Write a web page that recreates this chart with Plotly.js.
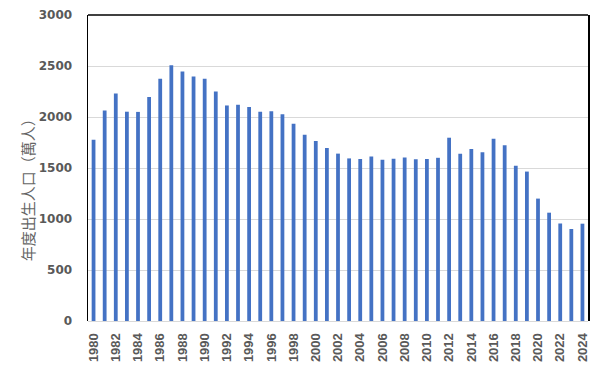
<!DOCTYPE html>
<html>
<head>
<meta charset="utf-8">
<script src="https://cdn.plot.ly/plotly-3.0.1.min.js"></script>
<style>html,body{margin:0;padding:0;background:#fff;}#chart{width:600px;height:370px;}</style>
</head>
<body>
<div id="chart"></div>
<script>
const years = [1980,1981,1982,1983,1984,1985,1986,1987,1988,1989,
  1990,1991,1992,1993,1994,1995,1996,1997,1998,1999,
  2000,2001,2002,2003,2004,2005,2006,2007,2008,2009,
  2010,2011,2012,2013,2014,2015,2016,2017,2018,2019,
  2020,2021,2022,2023,2024];
const births = [1776,2064,2230,2052,2050,2196,2374,2508,2445,2396,
  2374,2250,2113,2120,2098,2052,2057,2028,1934,1827,
  1765,1696,1641,1594,1588,1612,1581,1591,1604,1587,
  1588,1600,1797,1640,1687,1655,1786,1723,1523,1465,
  1200,1062,956,902,954];
const yTicks = [0,500,1000,1500,2000,2500,3000];
const xTickLabels = years.filter(y => y % 2 === 0).map(String);
const yTitle = '年度出生人口（萬人）';

const gray = '#595959';
const trace = {
  type: 'bar',
  x: years.map(String),
  y: births,
  marker: {color: '#4472C4'},
  hoverinfo: 'x+y'
};
const layout = {
  width: 600, height: 370,
  margin: {l: 88, r: 12, t: 15, b: 49},
  paper_bgcolor: '#fff', plot_bgcolor: '#fff',
  bargap: 0.66,
  showlegend: false,
  font: {family: 'DejaVu Sans', color: gray},
  xaxis: {
    type: 'category',
    tickmode: 'array',
    tickvals: xTickLabels,
    ticktext: xTickLabels,
    tickangle: -90,
    tickfont: {family: 'Liberation Sans', size: 13, color: gray, weight: 'bold'},
    ticks: 'outside', ticklen: 6, tickcolor: 'rgba(0,0,0,0)',
    showgrid: false, showline: false, zeroline: false
  },
  yaxis: {
    range: [0, 3000],
    tickmode: 'array',
    tickvals: yTicks,
    ticktext: yTicks.map(String),
    tickfont: {family: 'DejaVu Sans', size: 12, color: gray, weight: 'bold'},
    ticks: 'outside', ticklen: 12, tickcolor: 'rgba(0,0,0,0)',
    showgrid: true, gridcolor: '#d9d9d9', gridwidth: 1,
    zeroline: true, zerolinecolor: '#d9d9d9', zerolinewidth: 1,
    showline: true, linecolor: '#000', linewidth: 1.5, mirror: true
  },
  shapes: [{
    type: 'line', xref: 'paper', yref: 'paper',
    x0: 0, x1: 1, y0: 1, y1: 1,
    line: {color: '#000', width: 1.5}
  }],
  annotations: [{
    text: yTitle,
    xref: 'paper', yref: 'paper',
    x: -0.122, y: 0.44,
    xanchor: 'center', yanchor: 'middle',
    textangle: -90, showarrow: false,
    font: {family: 'Noto Sans CJK TC', size: 15, color: '#666666'}
  }]
};
Plotly.newPlot('chart', [trace], layout, {displayModeBar: false, staticPlot: true});
</script>
</body>
</html>
